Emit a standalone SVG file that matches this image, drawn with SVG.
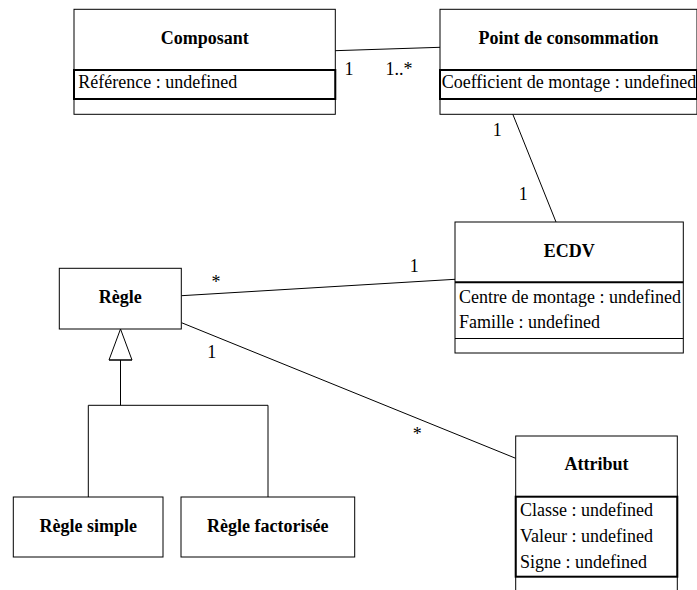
<svg xmlns="http://www.w3.org/2000/svg" width="697" height="590" viewBox="0 0 697 590">
<style>
  .box { fill: #ffffff; stroke: #000000; stroke-width: 1; }
  .attrbox { fill: none; stroke: #000000; stroke-width: 2; }
  .div { stroke: #000000; stroke-width: 1; }
  .divb { stroke: #000000; stroke-width: 2; }
  .name { font-family: "Liberation Serif", "Times New Roman", serif; font-size: 18px; font-weight: bold; text-anchor: middle; fill: #000000; }
  .attr { font-family: "Liberation Serif", "Times New Roman", serif; font-size: 18px; fill: #000000; }
  .lbl { font-family: "Liberation Serif", "Times New Roman", serif; font-size: 18px; text-anchor: middle; fill: #000000; }
  .conn line, .conn polyline { stroke: #000000; stroke-width: 1; fill: none; }
</style>
<rect width="697" height="590" fill="#ffffff"/>

<g class="conn" id="connectors">
  <line x1="335" y1="50.7" x2="440" y2="47.3"/>
  <line x1="512.7" y1="114" x2="556" y2="222"/>
  <line x1="181.5" y1="295.7" x2="455" y2="279.3"/>
  <line x1="181.5" y1="322.7" x2="515.7" y2="458.3"/>
  <polyline points="120.5,360 120.5,405.3"/>
  <polyline points="88.3,497 88.3,405.3 268,405.3 268,497"/>
  <polygon points="120.5,329 109,360 132,360" fill="#ffffff" stroke="#000000" stroke-width="1"/>
  <line x1="109" y1="360" x2="132" y2="360" stroke-width="2"/>
  <text class="lbl" x="349" y="75">1</text>
  <text class="lbl" x="399" y="75">1..*</text>
  <text class="lbl" x="497.3" y="135.7">1</text>
  <text class="lbl" x="523.3" y="200">1</text>
  <text class="lbl" x="216" y="287.5">*</text>
  <text class="lbl" x="414.3" y="272">1</text>
  <text class="lbl" x="211.7" y="358">1</text>
  <text class="lbl" x="417.3" y="440">*</text>
</g>

<g id="composant">
  <rect class="box" x="74" y="9.3" width="261.3" height="105"/>
  <text class="name" x="204.7" y="43.5">Composant</text>
  <rect class="attrbox" x="74" y="70" width="261.3" height="29"/>
  <text class="attr" x="78.3" y="88.3">Référence : undefined</text>
</g>

<g id="point-de-consommation">
  <rect class="box" x="440" y="9.3" width="257" height="105"/>
  <text class="name" x="568.5" y="43.5">Point de consommation</text>
  <rect class="attrbox" x="440" y="70" width="257" height="29"/>
  <text class="attr" x="441.7" y="88.3">Coefficient de montage : undefined</text>
</g>

<g id="ecdv">
  <rect class="box" x="455" y="222" width="228.3" height="131"/>
  <text class="name" x="569.2" y="256.7">ECDV</text>
  <line class="divb" x1="455" y1="282.3" x2="683.3" y2="282.3"/>
  <line class="div" x1="455" y1="338.5" x2="683.3" y2="338.5"/>
  <text class="attr" x="459" y="303">Centre de montage : undefined</text>
  <text class="attr" x="459" y="328">Famille : undefined</text>
</g>

<g id="regle">
  <rect class="box" x="59.3" y="268.3" width="122" height="60.7"/>
  <text class="name" x="120.3" y="302.5">Règle</text>
</g>

<g id="regle-simple">
  <rect class="box" x="13.3" y="497" width="149.7" height="60"/>
  <text class="name" x="88.2" y="532">Règle simple</text>
</g>

<g id="regle-factorisee">
  <rect class="box" x="181" y="497" width="173.7" height="60"/>
  <text class="name" x="267.8" y="532">Règle factorisée</text>
</g>

<g id="attribut">
  <rect class="box" x="515.7" y="436" width="161.6" height="170"/>
  <text class="name" x="596.5" y="470">Attribut</text>
  <rect class="attrbox" x="515.7" y="496.7" width="161.6" height="80"/>
  <text class="attr" x="520" y="515.5">Classe : undefined</text>
  <text class="attr" x="520" y="541.5">Valeur : undefined</text>
  <text class="attr" x="520" y="567.5">Signe : undefined</text>
</g>
</svg>
